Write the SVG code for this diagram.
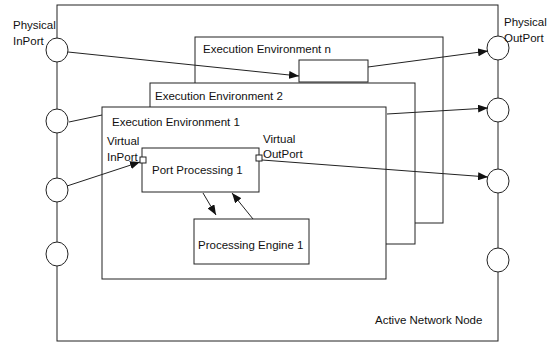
<svg xmlns="http://www.w3.org/2000/svg" width="551" height="344" viewBox="0 0 551 344">
<style>
.box{fill:#fff;stroke:#222;stroke-width:1}
.port{fill:#fff;stroke:#222;stroke-width:1}
.ln{fill:none;stroke:#222;stroke-width:1}
.ar{fill:none;stroke:#222;stroke-width:1;marker-end:url(#ah)}
text{font-family:"Liberation Sans",Arial,sans-serif;font-size:11.5px;fill:#111}
</style>
<defs>
<marker id="ah" viewBox="0 0 10 8" refX="10" refY="4" markerWidth="10" markerHeight="8" markerUnits="userSpaceOnUse" orient="auto">
<path d="M0,0 L10,4 L0,8 z" fill="#111"/>
</marker>
</defs>
<rect width="551" height="344" fill="#fff"/>
<g id="active-network-node">
<rect class="box" x="57" y="5" width="441" height="336"/>
<text x="375" y="324">Active Network Node</text>
</g>
<g id="physical-inports">
<ellipse class="port" cx="57" cy="50" rx="11" ry="12"/>
<ellipse class="port" cx="57" cy="121" rx="11" ry="12"/>
<ellipse class="port" cx="57" cy="190" rx="11" ry="12"/>
<ellipse class="port" cx="57" cy="254" rx="11" ry="12"/>
<text x="13" y="29">Physical</text>
<text x="13" y="45">InPort</text>
</g>
<g id="physical-outports">
<ellipse class="port" cx="498" cy="48" rx="11" ry="12"/>
<ellipse class="port" cx="498" cy="110" rx="11" ry="12"/>
<ellipse class="port" cx="498" cy="181" rx="11" ry="12"/>
<ellipse class="port" cx="498" cy="260" rx="11" ry="12"/>
<text x="504" y="26">Physical</text>
<text x="504" y="42">OutPort</text>
</g>
<g id="ee-n">
<rect class="box" x="195" y="37" width="248" height="186"/>
<text x="203" y="53">Execution Environment n</text>
<rect class="box" x="299" y="60" width="69" height="22"/>
</g>
<g id="ee-2">
<rect class="box" x="150" y="83" width="265" height="161"/>
<text x="155" y="100">Execution Environment 2</text>
</g>
<g id="ee-1">
<rect class="box" x="102" y="107" width="284" height="172"/>
<text x="112" y="126">Execution Environment 1</text>
<text x="107" y="145">Virtual</text>
<text x="107" y="161">InPort</text>
<text x="263" y="143">Virtual</text>
<text x="263" y="158">OutPort</text>
</g>
<g id="port-processing-1">
<rect class="box" x="142" y="148" width="117" height="44"/>
<text x="152" y="174">Port Processing 1</text>
<rect class="box" x="140" y="157" width="6" height="6"/>
<rect class="box" x="256" y="155" width="6" height="6"/>
</g>
<g id="processing-engine-1">
<rect class="box" x="194" y="219" width="115" height="45"/>
<text x="198" y="249">Processing Engine 1</text>
</g>
<g id="connectors">
<line class="ar" x1="68" y1="52" x2="299" y2="76"/>
<line class="ar" x1="368" y1="67" x2="488" y2="51"/>
<line class="ln" x1="69" y1="122" x2="102" y2="115"/>
<line class="ar" x1="387" y1="114" x2="488" y2="108"/>
<line class="ar" x1="67" y1="186" x2="140" y2="162"/>
<line class="ar" x1="262" y1="160" x2="488" y2="177"/>
<line class="ar" x1="203" y1="193" x2="216" y2="215"/>
<line class="ar" x1="253" y1="219" x2="232" y2="193"/>
</g>
</svg>
